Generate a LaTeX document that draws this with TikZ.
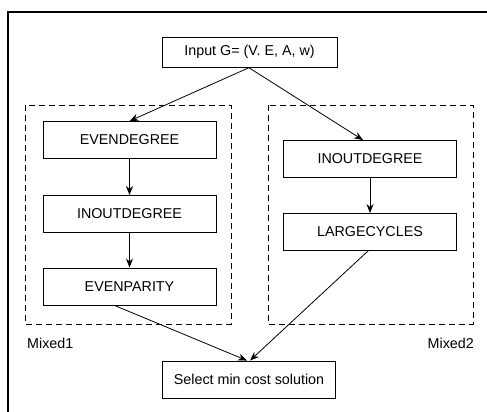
\documentclass[tikz,border=0pt]{standalone}
\usepackage{fontspec}
\setmainfont{Liberation Sans}
\usetikzlibrary{arrows.meta}
\begin{document}
\begin{tikzpicture}[x=1pt,y=-1pt,
  stepbox/.style={draw, line width=0.9pt, inner sep=0pt, minimum width=173pt, minimum height=37pt, font=\fontsize{14.3}{16}\selectfont},
  group/.style={draw, dashed, dash pattern=on 6pt off 4pt, line width=0.9pt},
  flow/.style={-{Stealth[length=9pt,width=7pt]}, line width=0.8pt},
  lbl/.style={font=\fontsize{14.3}{16}\selectfont, inner sep=0pt}]
\useasboundingbox (0,0) rectangle (487,412);
% outer frame (runs past the page edge on the right and bottom)
\begin{scope}
\clip (0,0) rectangle (487,412);
\draw[line width=1.1pt] (8,430) -- (8,12) -- (500,12);
\end{scope}
% grouping boxes
\draw[group] (25,105) rectangle (231,324);
\draw[group] (268,105) rectangle (473,324);
\node[lbl, anchor=west] (m1) at (27,343) {Mixed1};
\node[lbl, anchor=east] (m2) at (474,343) {Mixed2};
% steps
\node[stepbox, minimum width=175pt, minimum height=30pt] (in) at (249.5,52) {Input G= (V. E, A, w)};
\node[stepbox] (ed) at (129.5,140) {EVENDEGREE};
\node[stepbox] (io1) at (129.5,214) {INOUTDEGREE};
\node[stepbox] (ep) at (129.5,286.5) {EVENPARITY};
\node[stepbox] (io2) at (370,159) {INOUTDEGREE};
\node[stepbox] (lc) at (370,232) {LARGECYCLES};
\node[stepbox] (sel) at (249,379.5) {Select min cost solution};
% connectors
\draw[flow] (in.south) -- (ed.north);
\draw[flow] ([xshift=-1pt]in.south) -- ([xshift=-7pt]io2.north);
\draw[flow] (ed) -- (io1);
\draw[flow] (io1) -- (ep);
\draw[flow] (io2) -- (lc);
\draw[flow] ([xshift=-15pt]ep.south) -- ([xshift=-2pt]sel.north);
\draw[flow] ([xshift=-2pt]lc.south) -- ([xshift=1pt]sel.north);
\end{tikzpicture}
\end{document}
